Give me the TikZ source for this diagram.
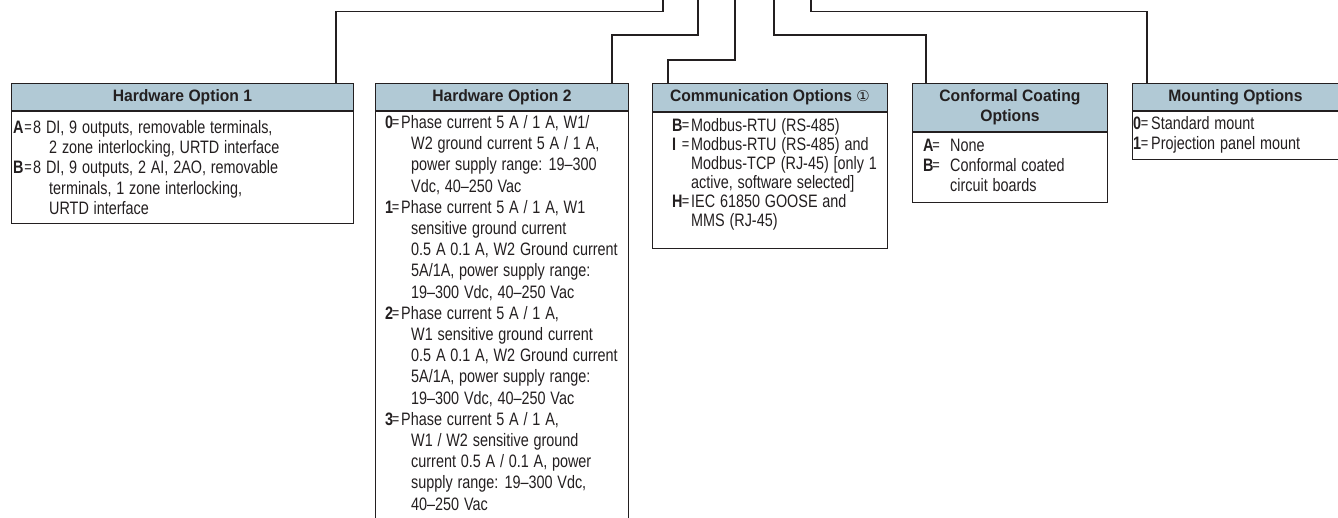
\documentclass[tikz,border=0pt]{standalone}
\usepackage{fontspec}
\setmainfont{Liberation Sans}[FakeStretch=0.80, WordSpace=1.2]
\newfontfamily\hdrfont{Liberation Sans}[FakeStretch=0.95]
\newfontfamily\symfont{DejaVu Sans}
\usetikzlibrary{calc}
\definecolor{ink}{RGB}{35,31,32}
\definecolor{hdrfill}{RGB}{177,201,213}
\newcommand\eqs{\raisebox{1.2pt}{\fontsize{16}{16}\selectfont=}}
% #1 = centre of "=" from letter start, #2 = text start from letter start
\newcommand\opt[4]{\rlap{\textbf{#3}}\rlap{\hspace*{#1pt}\makebox[0pt]{\eqs}}\hspace*{#2pt}#4}
\newcommand\cont[2]{\hspace*{#1pt}#2}
\begin{document}
\begin{tikzpicture}[x=1pt,y=-1pt,
  hdr/.style={draw=ink, line width=0.9pt, fill=hdrfill, inner sep=0pt, anchor=north west,
    font=\hdrfont\bfseries\fontsize{16.5}{20}\selectfont, text=ink, align=center},
  bodybox/.style={draw=ink, line width=0.9pt, inner sep=0pt, anchor=north west},
  txt/.style={inner sep=0pt, anchor=base west, text=ink, font=\fontsize{18}{20}\selectfont},
  conn/.style={draw=ink, line width=1.5pt}]
\useasboundingbox (0,0) rectangle (1338,518);
\clip (0,0) rectangle (1338,518);

% Box 1
\node[hdr, minimum width=342, minimum height=27] (h1) at (11,83) {Hardware Option 1};
\node[bodybox, minimum width=342, minimum height=112] (b1) at (h1.south west) {};
\node[txt] (t1) at (13,133.5) {\fontsize{18}{20.2}\selectfont\begin{tabular}[t]{@{}l@{}}
\opt{15}{20}{A}{8 DI, 9 outputs, removable terminals,}\\
\cont{36}{2 zone interlocking, URTD interface}\\
\opt{15}{20}{B}{8 DI, 9 outputs, 2 AI, 2AO, removable}\\
\cont{36}{terminals, 1 zone interlocking,}\\
\cont{36}{URTD interface}
\end{tabular}};

% Box 2
\node[hdr, minimum width=253, minimum height=27] (h2) at (375,83) {Hardware Option 2};
\node[bodybox, minimum width=253, minimum height=460] (b2) at (h2.south west) {};
\node[txt] (t2) at (385,128.5) {\fontsize{18}{21.2}\selectfont\begin{tabular}[t]{@{}l@{}}
\opt{10.5}{16}{0}{Phase current 5 A / 1 A, W1/}\\
\cont{26}{W2 ground current 5 A / 1 A,}\\
\cont{26}{power supply range: 19–300}\\
\cont{26}{Vdc, 40–250 Vac}\\
\opt{10.5}{16}{1}{Phase current 5 A / 1 A, W1}\\
\cont{26}{sensitive ground current}\\
\cont{26}{0.5 A 0.1 A, W2 Ground current}\\
\cont{26}{5A/1A, power supply range:}\\
\cont{26}{19–300 Vdc, 40–250 Vac}\\
\opt{10.5}{16}{2}{Phase current 5 A / 1 A,}\\
\cont{26}{W1 sensitive ground current}\\
\cont{26}{0.5 A 0.1 A, W2 Ground current}\\
\cont{26}{5A/1A, power supply range:}\\
\cont{26}{19–300 Vdc, 40–250 Vac}\\
\opt{10.5}{16}{3}{Phase current 5 A / 1 A,}\\
\cont{26}{W1 / W2 sensitive ground}\\
\cont{26}{current 0.5 A / 0.1 A, power}\\
\cont{26}{supply range: 19–300 Vdc,}\\
\cont{26}{40–250 Vac}
\end{tabular}};

% Box 3
\node[hdr, minimum width=235, minimum height=28] (h3) at (652,83) {Communication Options {\symfont\mdseries\fontsize{15}{15}\selectfont\raisebox{0.5pt}{①}}};
\node[bodybox, minimum width=235, minimum height=136] (b3) at (h3.south west) {};
\node[txt] (t3) at (672,131.5) {\fontsize{18}{19}\selectfont\begin{tabular}[t]{@{}l@{}}
\opt{13.5}{19}{B}{Modbus-RTU (RS-485)}\\
\opt{13.5}{19}{I}{Modbus-RTU (RS-485) and}\\
\cont{19}{Modbus-TCP (RJ-45) [only 1}\\
\cont{19}{active, software selected]}\\
\opt{13.5}{19}{H}{IEC 61850 GOOSE and}\\
\cont{19}{MMS (RJ-45)}
\end{tabular}};

% Box 4
\node[hdr, minimum width=195, minimum height=48] (h4) at (912,83) {Conformal Coating\\Options};
\node[bodybox, minimum width=195, minimum height=70] (b4) at (h4.south west) {};
\node[txt] (t4) at (923,151.5) {\fontsize{18}{20}\selectfont\begin{tabular}[t]{@{}l@{}}
\opt{13}{27}{A}{None}\\
\opt{13}{27}{B}{Conformal coated}\\
\cont{27}{circuit boards}
\end{tabular}};

% Box 5
\node[hdr, minimum width=215, minimum height=27] (h5) at (1132,83) {\hspace*{-9pt}Mounting Options};
\node[bodybox, minimum width=215, minimum height=48] (b5) at (h5.south west) {};
\node[txt] (t5) at (1133,129.5) {\fontsize{18}{20}\selectfont\begin{tabular}[t]{@{}l@{}}
\opt{11.5}{18}{0}{Standard mount}\\
\opt{11.5}{18}{1}{Projection panel mount}
\end{tabular}};

% connector ends at the top edge
\coordinate (top1) at (663,0);
\coordinate (top2) at (698,0);
\coordinate (top3) at (735,0);
\coordinate (top4) at (774,0);
\coordinate (top5) at (811,0);

\draw[conn] ($(h1.north west)+(325,0)$) |- ($(top1)+(0,11.5)$) -- (top1);
\draw[conn] ($(h2.north west)+(237,0)$) |- ($(top2)+(0,35)$) -- (top2);
\draw[conn] ($(h3.north west)+(16,0)$) |- ($(top3)+(0,60)$) -- (top3);
\draw[conn] ($(h4.north west)+(14,0)$) |- ($(top4)+(0,35)$) -- (top4);
\draw[conn] ($(h5.north west)+(15,0)$) |- ($(top5)+(0,11.5)$) -- (top5);
\end{tikzpicture}
\end{document}
